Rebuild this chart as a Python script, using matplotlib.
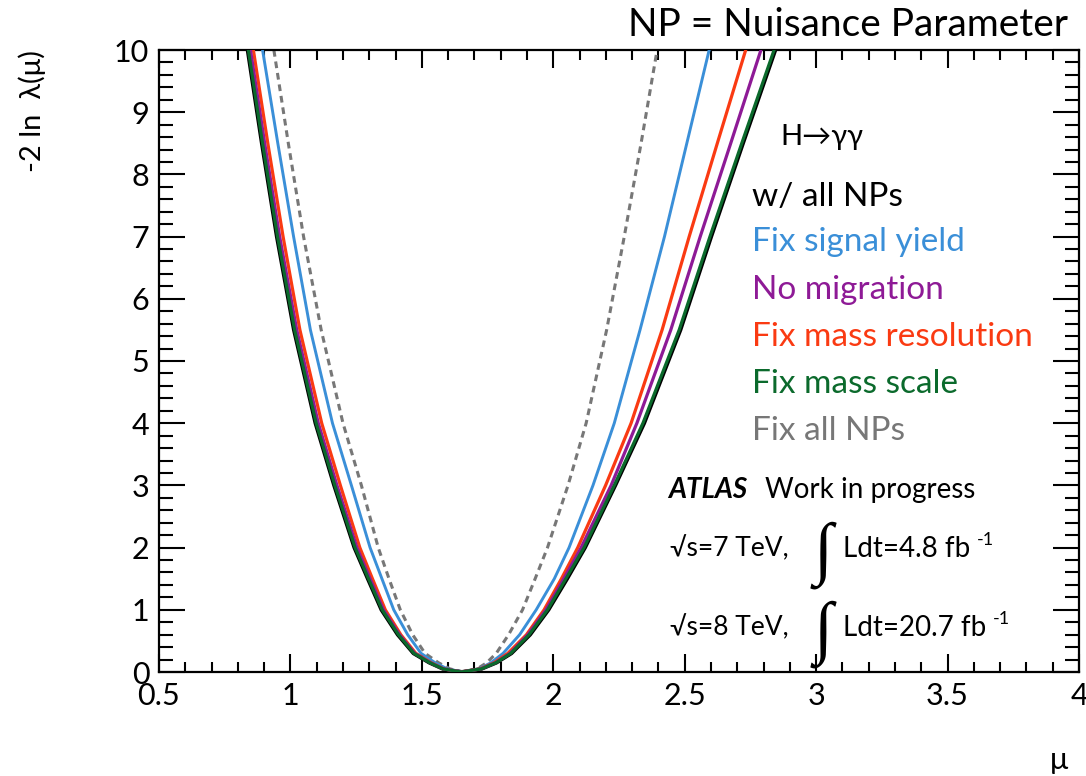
import matplotlib
matplotlib.use("Agg")
import matplotlib.pyplot as plt
from matplotlib.ticker import MultipleLocator

plt.rcParams['font.family'] = ['Lato', 'DejaVu Sans']

# -2 ln lambda levels at which the curves were read (left branch, then right branch)
lev_left = [10, 8.5, 7, 5.5, 4, 3, 2, 1.5, 1, 0.6, 0.3, 0.15, 0.05, 0]
lev_right = [0.05, 0.15, 0.3, 0.6, 1, 1.5, 2, 3, 4, 5.5, 7, 8.5, 10]

# mu values read at those levels
all_np_left = [0.837, 0.891, 0.948, 1.013, 1.095, 1.166, 1.243, 1.294, 1.346, 1.408, 1.468, 1.528, 1.580, 1.650]
all_np_right = [1.727, 1.784, 1.841, 1.912, 1.982, 2.053, 2.121, 2.236, 2.346, 2.484, 2.601, 2.722, 2.845]

green_left = [0.840, 0.894, 0.951, 1.016, 1.098, 1.169, 1.246, 1.297, 1.349, 1.411, 1.470, 1.530, 1.581, 1.650]
green_right = [1.726, 1.782, 1.838, 1.908, 1.978, 2.048, 2.117, 2.232, 2.341, 2.479, 2.596, 2.717, 2.840]

purple_left = [0.848, 0.902, 0.959, 1.024, 1.106, 1.177, 1.253, 1.303, 1.354, 1.415, 1.473, 1.532, 1.582, 1.650]
purple_right = [1.725, 1.780, 1.835, 1.903, 1.972, 2.040, 2.106, 2.220, 2.318, 2.447, 2.559, 2.675, 2.790]

red_left = [0.859, 0.914, 0.972, 1.036, 1.119, 1.190, 1.264, 1.312, 1.361, 1.420, 1.477, 1.535, 1.584, 1.650]
red_right = [1.722, 1.775, 1.827, 1.898, 1.965, 2.031, 2.093, 2.199, 2.296, 2.414, 2.517, 2.624, 2.732]

blue_left = [0.894, 0.952, 1.012, 1.076, 1.160, 1.232, 1.303, 1.348, 1.393, 1.446, 1.497, 1.550, 1.597, 1.655]
blue_right = [1.718, 1.763, 1.809, 1.872, 1.935, 2.004, 2.060, 2.151, 2.232, 2.330, 2.423, 2.508, 2.593]

grey_left = [0.937, 0.992, 1.050, 1.117, 1.200, 1.270, 1.334, 1.375, 1.418, 1.465, 1.512, 1.563, 1.607, 1.660]
grey_right = [1.710, 1.747, 1.783, 1.830, 1.883, 1.931, 1.978, 2.056, 2.125, 2.203, 2.270, 2.334, 2.395]

legend_labels = ["w/ all NPs", "Fix signal yield", "No migration",
                 "Fix mass resolution", "Fix mass scale", "Fix all NPs"]
c_black = "#000000"
c_blue = "#3a8fd8"
c_purple = "#8e1a96"
c_red = "#fa3a12"
c_green = "#0b6a2c"
c_grey = "#777777"
legend_colors = [c_black, c_blue, c_purple, c_red, c_green, c_grey]

W, H = 1086, 776
fig = plt.figure(figsize=(W / 100, H / 100), dpi=100)
L, R, T, B = 159, 1079, 50, 672
ax = fig.add_axes([L / W, 1 - B / H, (R - L) / W, (B - T) / H])


def curve(left, right):
    xs = list(left) + list(right)
    ys = list(lev_left) + list(lev_right)
    return xs, ys


lw = 2.3
x, y = curve(grey_left, grey_right)
ax.plot(x, y, color=c_grey, lw=2.2, ls=(0, (2.2, 1.6)), zorder=2)
x, y = curve(all_np_left, all_np_right)
ax.plot(x, y, color=c_black, lw=lw + 0.4, zorder=3)
x, y = curve(blue_left, blue_right)
ax.plot(x, y, color=c_blue, lw=2.1, zorder=4)
x, y = curve(red_left, red_right)
ax.plot(x, y, color=c_red, lw=lw, zorder=5)
x, y = curve(purple_left, purple_right)
ax.plot(x, y, color=c_purple, lw=lw, zorder=6)
x, y = curve(green_left, green_right)
ax.plot(x, y, color=c_green, lw=lw, zorder=7)

ax.set_xlim(0.5, 4)
ax.set_ylim(0, 10)
ax.xaxis.set_minor_locator(MultipleLocator(0.1))
ax.yaxis.set_minor_locator(MultipleLocator(0.2))
ax.set_xticks([0.5, 1, 1.5, 2, 2.5, 3, 3.5, 4])
ax.set_xticklabels(["0.5", "1", "1.5", "2", "2.5", "3", "3.5", "4"])
ax.set_yticks(range(0, 11))
ax.set_yticklabels([str(i) for i in range(0, 11)])
ax.tick_params(axis='x', which='major', direction='in', length=13, width=1.5,
               top=True, bottom=True, labelsize=22, pad=7)
ax.tick_params(axis='x', which='minor', direction='in', length=7, width=1.5,
               top=True, bottom=True)
ax.tick_params(axis='y', which='major', direction='in', length=19, width=1.5,
               left=True, right=True, labelsize=22, pad=7)
ax.tick_params(axis='y', which='minor', direction='in', length=10, width=1.5,
               left=True, right=True)
for s in ax.spines.values():
    s.set_linewidth(1.6)


def ftext(px, py, s, **kw):
    return fig.text(px / W, 1 - py / H, s, **kw)


ftext(32, 50, "-2 ln  λ(μ)", rotation=90, ha='center', va='top', fontsize=21)
ftext(1068, 760, "μ", ha='right', va='center', fontsize=22)
ftext(1068, 25, "NP = Nuisance Parameter", ha='right', va='center', fontsize=28)
ftext(780, 137, "H→γγ", ha='left', va='center', fontsize=21)

leg_y = [197, 242, 290, 337, 384, 431]
for lab, col, yy in zip(legend_labels, legend_colors, leg_y):
    ftext(752, yy, lab, ha='left', va='center', fontsize=24, color=col)

ftext(668, 490, "ATLAS", ha='left', va='center', fontsize=20,
      fontweight='bold', fontstyle='italic')
ftext(765, 490, "Work in progress", ha='left', va='center', fontsize=20)

rows = [("√s=7 TeV,", "Ldt=4.8 fb", 549), ("√s=8 TeV,", "Ldt=20.7 fb", 628)]
for s1, s2, yy in rows:
    ftext(670, yy, s1, ha='left', va='center', fontsize=19)
    ftext(814, yy + 6, "∫", ha='left', va='center', fontsize=50,
          family=['Liberation Serif', 'DejaVu Serif'])
    t = ftext(843, yy, s2, ha='left', va='center', fontsize=20)
    fig.canvas.draw()
    bb = t.get_window_extent()
    fig.text((bb.x1 + 7) / W, (bb.y1 + 4) / H, "-1", ha='left', va='top', fontsize=13)

fig.savefig("out.png", dpi=100, facecolor='white')
